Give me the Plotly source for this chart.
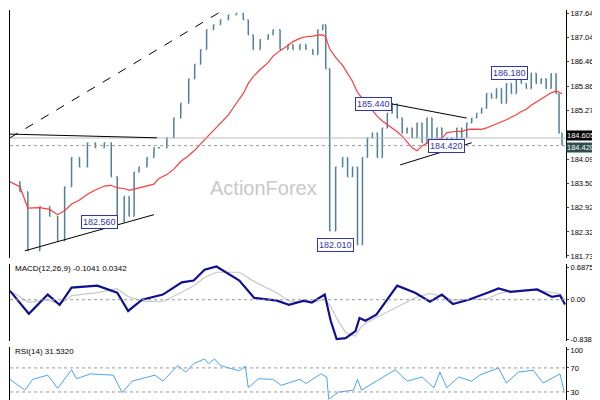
import pandas as pd
import plotly.graph_objects as go

# price bars (time slot, close)
bar_t = [0, 10, 18, 30, 40, 48, 55, 62, 70, 78, 86, 95, 102, 108, 115, 120, 125, 130, 138, 145,
         150, 158, 165, 172, 180, 186, 192, 198, 205, 212, 220, 228, 235, 240, 245, 252, 260, 265,
         272, 280, 285, 292, 298, 305, 310, 315, 318, 322, 328, 335, 340, 345, 350, 355, 360, 365,
         370, 375, 380, 385, 390, 395, 400, 405, 410, 415, 420, 425, 430, 435, 440, 445, 450, 455,
         460, 465, 470, 475, 480, 485, 490, 495, 500, 505, 510, 515, 520, 525, 530, 535, 540, 545,
         550, 553, 556]
closes = [183.54, 183.30, 181.86, 182.94, 182.70, 182.10, 183.42, 184.13, 183.90, 184.49, 184.37,
          184.49, 183.66, 182.56, 183.18, 182.70, 183.78, 183.90, 184.13, 184.37, 184.37, 184.61,
          185.09, 185.45, 186.05, 186.40, 186.76, 187.24, 187.36, 187.48, 187.60, 187.64, 187.48,
          187.12, 186.76, 187.00, 187.12, 187.24, 186.76, 186.88, 186.76, 186.88, 186.76, 186.64,
          187.24, 187.36, 186.29, 182.34, 183.90, 184.13, 183.66, 183.90, 182.01, 184.13, 184.61,
          184.73, 184.13, 184.85, 185.21, 185.44, 185.09, 184.73, 184.85, 184.61, 184.97, 184.49,
          185.09, 184.49, 184.85, 184.37, 184.61, 184.49, 184.85, 184.61, 184.97, 185.09, 185.21,
          185.33, 185.69, 185.57, 185.81, 185.45, 185.93, 185.69, 186.05, 185.93, 185.81, 186.18,
          185.93, 186.05, 185.81, 186.17, 185.69, 184.73, 184.42]

macd_t = [0, 19, 38, 50, 62, 88, 108, 119, 133, 154, 173, 185, 196, 208, 231, 246, 269, 281, 296,
          304, 317, 323, 329, 338, 348, 352, 358, 369, 390, 408, 423, 435, 446, 462, 481, 492, 504,
          531, 546, 554, 559]
macd = [0.19, -0.30, 0.11, -0.11, 0.26, 0.30, 0.15, -0.24, 0.00, 0.11, 0.37, 0.41, 0.64, 0.71,
        0.41, 0.04, -0.02, -0.11, -0.02, -0.06, 0.11, -0.45, -0.84, -0.82, -0.67, -0.39, -0.45,
        -0.32, 0.30, 0.15, -0.04, 0.11, -0.09, 0.00, 0.15, 0.24, 0.17, 0.22, 0.06, 0.09, -0.10]

rsi_t = [0, 15, 23, 38, 48, 62, 67, 81, 104, 113, 123, 146, 154, 169, 177, 185, 196, 200, 206,
         212, 231, 237, 240, 250, 265, 273, 292, 298, 313, 319, 321, 331, 346, 350, 354, 369, 388,
         400, 415, 427, 433, 440, 452, 465, 473, 492, 500, 512, 527, 537, 554, 558]
rsi = [51, 33, 51, 58, 36, 67, 52, 60, 58, 29, 48, 58, 48, 74, 63, 77, 85, 77, 85, 74, 65, 73, 37,
       52, 51, 41, 51, 44, 60, 55, 18, 30, 33, 51, 33, 48, 67, 48, 55, 37, 63, 37, 55, 48, 58, 70,
       45, 63, 66, 45, 60, 31.5]

price_ticks = [187.645, 187.045, 186.460, 185.860, 185.275, 184.690, 184.090, 183.505, 182.920,
               182.320, 181.735]

s = pd.Series(closes)
opens = [closes[0]] + closes[:-1]
highs = [max(o, c) for o, c in zip(opens, closes)]
lows = [min(o, c) for o, c in zip(opens, closes)]
ma = s.rolling(18, min_periods=1).mean()
signal = pd.Series(macd).rolling(3, min_periods=1).mean()

FONT = 'Liberation Sans'

fig = go.Figure()
fig.add_trace(go.Ohlc(x=bar_t, open=opens, high=highs, low=lows, close=closes,
                      increasing_line_color='#4f7f99', decreasing_line_color='#4f7f99',
                      line_width=1.5, yaxis='y', showlegend=False))
fig.add_trace(go.Scatter(x=bar_t, y=ma, mode='lines', line=dict(color='#ff3b3b', width=1.2),
                         yaxis='y', showlegend=False))
fig.add_trace(go.Scatter(x=macd_t, y=signal, mode='lines', line=dict(color='#c8c8c8', width=1.2),
                         yaxis='y2', showlegend=False))
fig.add_trace(go.Scatter(x=macd_t, y=macd, mode='lines', line=dict(color='#101090', width=2.2),
                         yaxis='y2', showlegend=False))
fig.add_trace(go.Scatter(x=rsi_t, y=rsi, mode='lines', line=dict(color='#4aa3f0', width=1),
                         yaxis='y3', showlegend=False))

ax = dict(showgrid=False, zeroline=False, side='right', ticks='outside', ticklen=2,
          tickfont=dict(family=FONT, size=7.5, color='black'), showline=True,
          linecolor='black', mirror=True, anchor='x')
fig.update_layout(
    width=600, height=400, margin=dict(l=1, r=42, t=1, b=1),
    plot_bgcolor='white', paper_bgcolor='white',
    xaxis=dict(range=[0, 560], showticklabels=False, showgrid=False, zeroline=False,
               rangeslider_visible=False, showline=False),
    yaxis=dict(ax, domain=[0.37, 1], range=[181.68, 187.72], tickvals=price_ticks,
               ticktext=['%.3f' % v for v in price_ticks]),
    yaxis2=dict(ax, domain=[0.16, 0.355], range=[-0.88, 0.76], tickvals=[0.6875, 0, -0.8381],
                ticktext=['0.6875', '0.00', '-0.8381']),
    yaxis3=dict(ax, domain=[0, 0.145], range=[10, 105], tickvals=[100, 70, 30]),
)

# reference lines
for yv, yref, dash in [(184.42, 'y', 'dot'), (0, 'y2', 'dot'), (70, 'y3', 'dot'), (30, 'y3', 'dot')]:
    fig.add_shape(type='line', xref='paper', x0=0, x1=1, yref=yref, y0=yv, y1=yv,
                  line=dict(color='#999999', width=1, dash=dash))
fig.add_shape(type='line', xref='paper', x0=0, x1=1, yref='y', y0=184.605, y1=184.605,
              line=dict(color='#bbbbbb', width=1))

# trend lines
for x0, y0, x1, y1, dash in [(0, 184.61, 215, 187.72, 'dash'), (0, 184.70, 148, 184.61, 'solid'),
                             (15, 181.86, 145, 182.74, 'solid'), (355, 185.57, 460, 185.09, 'solid'),
                             (393, 183.95, 465, 184.49, 'solid')]:
    fig.add_shape(type='line', x0=x0, y0=y0, x1=x1, y1=y1, yref='y',
                  line=dict(color='black', width=1, dash=dash))

# level labels
for xv, yv, txt in [(90, 182.56, '182.560'), (328, 182.01, '182.010'), (366, 185.44, '185.440'),
                    (503, 186.18, '186.180'), (440, 184.42, '184.420')]:
    fig.add_annotation(x=xv, y=yv, yref='y', text=txt, showarrow=False, bgcolor='white',
                       bordercolor='#3333aa', borderwidth=1, borderpad=1,
                       font=dict(family=FONT, size=9, color='#3333aa'))
for yv, txt, bg in [(184.66, '184.605', 'black'), (184.38, '184.420', '#2f4f4f')]:
    fig.add_annotation(xref='paper', x=1.0, xanchor='left', y=yv, yref='y', text=txt,
                       showarrow=False, bgcolor=bg, borderpad=0,
                       font=dict(family=FONT, size=7.5, color='white'))

fig.add_annotation(x=255, y=183.4, yref='y', text='ActionForex', showarrow=False,
                   font=dict(family=FONT, size=20, color='#c8c8c8'))
fig.add_annotation(xref='paper', x=0.005, y=0.675, yref='y2', text='MACD(12,26,9) -0.1041 0.0342',
                   showarrow=False, xanchor='left', font=dict(family=FONT, size=8, color='black'))
fig.add_annotation(xref='paper', x=0.005, y=98, yref='y3', text='RSI(14) 31.5320',
                   showarrow=False, xanchor='left', font=dict(family=FONT, size=8, color='black'))

fig.write_html("out.html")
